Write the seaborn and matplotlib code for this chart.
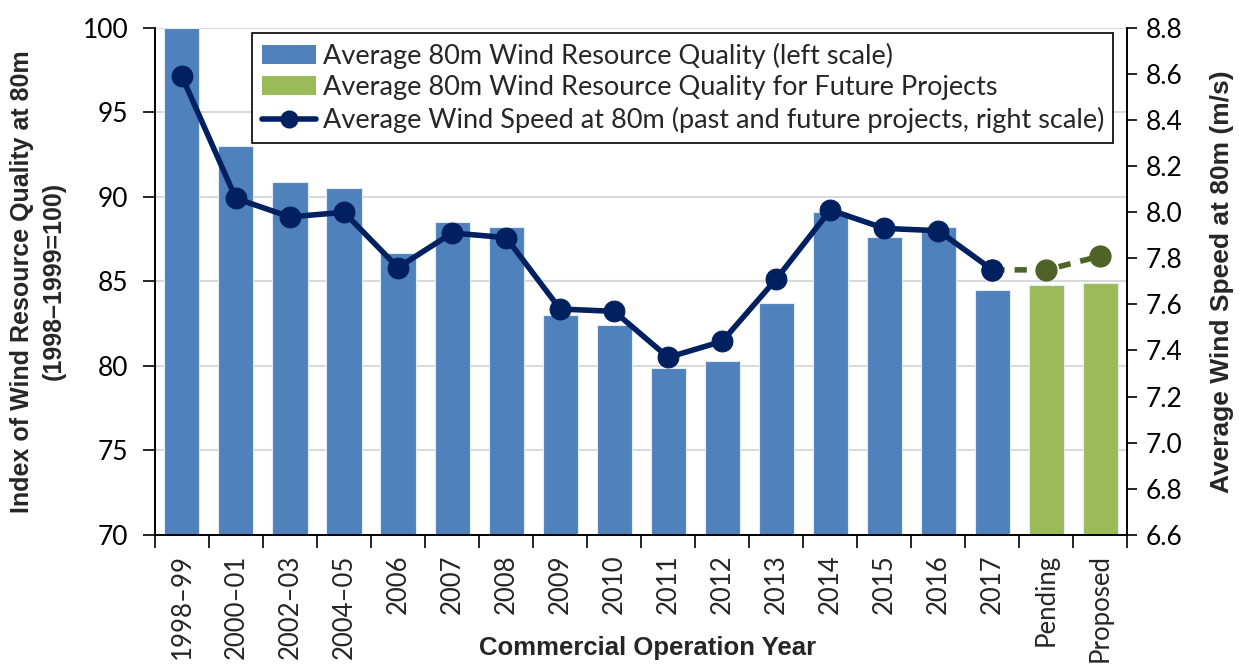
import numpy as np
import pandas as pd
import matplotlib
matplotlib.use("Agg")
import matplotlib.pyplot as plt
import seaborn as sns
from matplotlib.patches import Patch
from matplotlib.lines import Line2D

categories = ["1998–99", "2000–01", "2002–03", "2004–05", "2006", "2007", "2008",
              "2009", "2010", "2011", "2012", "2013", "2014", "2015", "2016", "2017",
              "Pending", "Proposed"]
quality_index = [100, 93.0, 90.9, 90.5, 86.7, 88.5, 88.2, 83.0, 82.4, 79.9, 80.3,
                 83.7, 89.1, 87.6, 88.2, 84.5, 84.8, 84.9]
wind_speed = [8.59, 8.06, 7.98, 8.00, 7.76, 7.91, 7.89, 7.58, 7.57, 7.37, 7.44,
              7.71, 8.01, 7.93, 7.92, 7.75, 7.75, 7.81]
is_future = [False] * 16 + [True, True]

BLUE = "#4F81BD"
GREEN = "#9BBB59"
NAVY = "#002060"
DKGREEN = "#4F6228"

sns.set_theme(style="white")
plt.rcParams['font.family'] = ['Lato', 'DejaVu Sans']
BOLD_FONT = ['Liberation Sans Narrow', 'Liberation Sans', 'DejaVu Sans']

fig = plt.figure(figsize=(12.39, 6.66), dpi=100)
ax = fig.add_axes([0.125, 0.197, 0.785, 0.761])

df = pd.DataFrame({"cat": categories, "q": quality_index})
palette = {c: (GREEN if f else BLUE) for c, f in zip(categories, is_future)}
sns.barplot(data=df, x="cat", y="q", hue="cat", palette=palette, legend=False,
            width=0.65, saturation=1, ax=ax, edgecolor="#e3ebf5", linewidth=0.8,
            zorder=2)
ax.set_ylim(70, 100)
ax.set_xlim(-0.5, len(categories) - 0.5)
ax.set_yticks(np.arange(70, 101, 5))
ax.yaxis.grid(True, color="#d9d9d9", linewidth=1.5, zorder=0)
ax.set_axisbelow(True)

ax2 = ax.twinx()
x = np.arange(len(categories))
past = x[:16]
sns.lineplot(x=past, y=wind_speed[:16], ax=ax2, color=NAVY, linewidth=4,
             marker="o", markersize=15, markeredgecolor=NAVY, sort=False, zorder=5)
fut_x = x[15:]
sns.lineplot(x=fut_x, y=wind_speed[15:], ax=ax2, color=DKGREEN, linewidth=4,
             linestyle=(0, (2.2, 1.8)), sort=False, zorder=3)
ax2.plot(x[16:], wind_speed[16:], linestyle="none", marker="o", markersize=15,
         color=DKGREEN, zorder=4)
ax2.plot([x[15]], [wind_speed[15]], linestyle="none", marker="o", markersize=15,
         color=NAVY, zorder=6)
ax2.set_ylim(6.6, 8.8)
rticks = np.round(np.arange(6.6, 8.81, 0.2), 1)
ax2.set_yticks(rticks)
ax2.set_yticklabels([f"{v:.1f}" for v in rticks])
ax2.set_xlim(-0.5, len(categories) - 0.5)

for a in (ax, ax2):
    a.spines["top"].set_visible(False)
    for s in ("left", "right", "bottom"):
        a.spines[s].set_color("black")
        a.spines[s].set_linewidth(1.2)

ax.tick_params(axis="y", labelsize=19, direction="out", length=9, width=1.2,
               left=True, colors="black", pad=10)
ax2.tick_params(axis="y", labelsize=19, direction="out", length=7, width=1.2,
                right=True, colors="black", pad=6)
ax.set_xticks(x)
ax.set_xticklabels(categories, rotation=90, fontsize=18.5)
ax.tick_params(axis="x", which="major", length=0, pad=14)
ax.set_xticks(np.arange(-0.5, len(categories), 1), minor=True)
ax.tick_params(axis="x", which="minor", length=9, width=1.2, bottom=True, color="black")

ax.set_xlabel("")
fig.text(0.125 + 0.785 / 2 + 0.005, 1 - 648 / 666, "Commercial Operation Year",
         fontsize=18.5, fontweight="bold", family=BOLD_FONT, ha="center", va="center")
ax.set_ylabel("Index of Wind Resource Quality at 80m\n(1998–1999=100)", fontsize=18,
              fontweight="bold", family=BOLD_FONT, labelpad=12, linespacing=1.45)
ax2.set_ylabel("Average Wind Speed at 80m (m/s)", fontsize=19, fontweight="bold",
               family=BOLD_FONT, labelpad=20)

handles = [
    Patch(facecolor=BLUE, edgecolor="none"),
    Patch(facecolor=GREEN, edgecolor="none"),
    Line2D([0], [0], color=NAVY, linewidth=4, marker="o", markersize=12),
]
labels = [
    "Average 80m Wind Resource Quality (left scale)",
    "Average 80m Wind Resource Quality for Future Projects",
    "Average Wind Speed at 80m (past and future projects, right scale)",
]
leg = ax2.legend(handles, labels, loc="upper left", bbox_to_anchor=(0.1, 0.99),
                 fontsize=19.5, frameon=True, fancybox=False, edgecolor="black",
                 framealpha=1, handlelength=2.0, handleheight=0.7, borderpad=0.35,
                 labelspacing=0.25, handletextpad=0.25, borderaxespad=0)
leg.get_frame().set_linewidth(1.2)
leg.set_zorder(10)

fig.savefig("out.png", dpi=100)
